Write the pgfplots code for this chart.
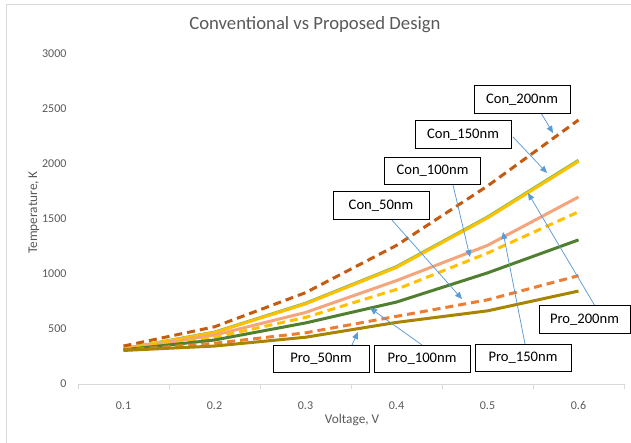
\documentclass[border=0pt]{standalone}
\usepackage{pgfplots}
\pgfplotsset{compat=1.18}
\usepackage{fontspec}
\setmainfont{Carlito}
\usetikzlibrary{arrows.meta}
\definecolor{conbrown}{HTML}{C55A11}
\definecolor{conyellow}{HTML}{FFC000}
\definecolor{progreen}{HTML}{7FB857}
\definecolor{prosalmon}{HTML}{F4A57C}
\definecolor{prodkgreen}{HTML}{4F7F2F}
\definecolor{conorange}{HTML}{ED7D31}
\definecolor{proolive}{HTML}{A88400}
\definecolor{txtgray}{HTML}{595959}
\definecolor{axgray}{HTML}{D9D9D9}
\definecolor{arrowblue}{HTML}{5B9BD5}
\begin{document}
\begin{tikzpicture}[x=1pt,y=1pt]
\useasboundingbox (0,0) rectangle (631,443);
\draw[axgray] (6,0) -- (6,439) -- (631,439);
\begin{axis}[
  at={(78pt,59pt)}, anchor=south west, scale only axis,
  width=546pt, height=330pt,
  xmin=0.05, xmax=0.65, ymin=0, ymax=3000,
  axis x line*=bottom, axis y line*=left,
  y axis line style={draw=none},
  x axis line style={draw=axgray, line width=0.8pt},
  xtick={0.1,0.2,0.3,0.4,0.5,0.6},
  xticklabels={0.1,0.2,0.3,0.4,0.5,0.6},
  minor xtick={0.05,0.15,0.25,0.35,0.45,0.55,0.65},
  major tick length=0pt, minor tick length=5pt,
  tick align=outside,
  every tick/.style={draw=axgray, line width=0.8pt},
  ytick={0,500,1000,1500,2000,2500,3000},
  ytick style={draw=none},
  /pgf/number format/assume math mode=true,
  /pgf/number format/1000 sep={},
  tick label style={font=\fontsize{12}{14}\selectfont, text=txtgray},
  yticklabel style={xshift=-8pt},
  xticklabel style={yshift=-14pt},
  title={Conventional vs Proposed Design},
  title style={at={(axis description cs:0.434,1.07)}, anchor=center, font=\fontsize{18.7}{22}\selectfont, text=txtgray},
  xlabel={Voltage, V},
  ylabel={Temperature, K},
  xlabel style={at={(axis description cs:0.502,-0.108)}, anchor=center, font=\fontsize{13.3}{16}\selectfont, text=txtgray},
  ylabel style={at={(axis description cs:-0.0805,0.52)}, anchor=center, rotate=0, font=\fontsize{13.3}{16}\selectfont, text=txtgray},
  clip=false,
]
% Pro_200nm (green, under yellow)
\addplot[progreen, line width=3pt] coordinates {(0.1,320)(0.2,472)(0.3,734)(0.4,1067)(0.5,1518)(0.6,2034)};
% Con_150nm (yellow)
\addplot[conyellow, line width=3pt] coordinates {(0.1,318)(0.2,468)(0.3,728)(0.4,1060)(0.5,1510)(0.6,2025)};
% Con_200nm (brown dashed)
\addplot[conbrown, line width=3pt, dash pattern=on 8pt off 5pt] coordinates {(0.1,345)(0.2,520)(0.3,830)(0.4,1260)(0.5,1800)(0.6,2400)};
% Pro_150nm (salmon)
\addplot[prosalmon, line width=3pt] coordinates {(0.1,315)(0.2,445)(0.3,650)(0.4,940)(0.5,1260)(0.6,1700)};
% Con_100nm (yellow dashed)
\addplot[conyellow, line width=3pt, dash pattern=on 8pt off 5pt] coordinates {(0.1,312)(0.2,425)(0.3,605)(0.4,860)(0.5,1190)(0.6,1565)};
% Pro_100nm (dark green)
\addplot[prodkgreen, line width=3pt] coordinates {(0.1,310)(0.2,400)(0.3,555)(0.4,745)(0.5,1010)(0.6,1310)};
% Con_50nm (orange dashed)
\addplot[conorange, line width=3pt, dash pattern=on 8pt off 5pt] coordinates {(0.1,308)(0.2,370)(0.3,465)(0.4,615)(0.5,765)(0.6,985)};
% Pro_50nm (olive)
\addplot[proolive, line width=3pt] coordinates {(0.1,305)(0.2,345)(0.3,425)(0.4,560)(0.5,665)(0.6,845)};
\end{axis}
% callout arrows
\begin{scope}[arrowblue, line width=0.75pt, -{Triangle[length=7pt,width=6pt]}]
\draw (541,330) -- (553,310);
\draw (513,306) -- (547,270);
\draw (453,258) -- (470,186);
\draw (391,224) -- (462,144);
\draw (595,137) -- (528,250);
\draw (525,99) -- (503,211);
\draw (422,98) -- (370,135);
\draw (352,98) -- (358,111);
\end{scope}
% callout boxes
\begin{scope}[every node/.style={draw=black, line width=0.8pt, fill=white, minimum width=96pt, minimum height=27.5pt, inner sep=0pt, font=\fontsize{14.6}{17}\selectfont}]
\node at (522,343.5) {Con\_200nm};
\node at (463,308.5) {Con\_150nm};
\node at (432.5,272) {Con\_100nm};
\node at (381,237.5) {Con\_50nm};
\node[minimum width=91pt] at (584.5,123.5) {Pro\_200nm};
\node at (523,85) {Pro\_150nm};
\node at (422,84) {Pro\_100nm};
\node at (321,84) {Pro\_50nm};
\end{scope}
\end{tikzpicture}
\end{document}
